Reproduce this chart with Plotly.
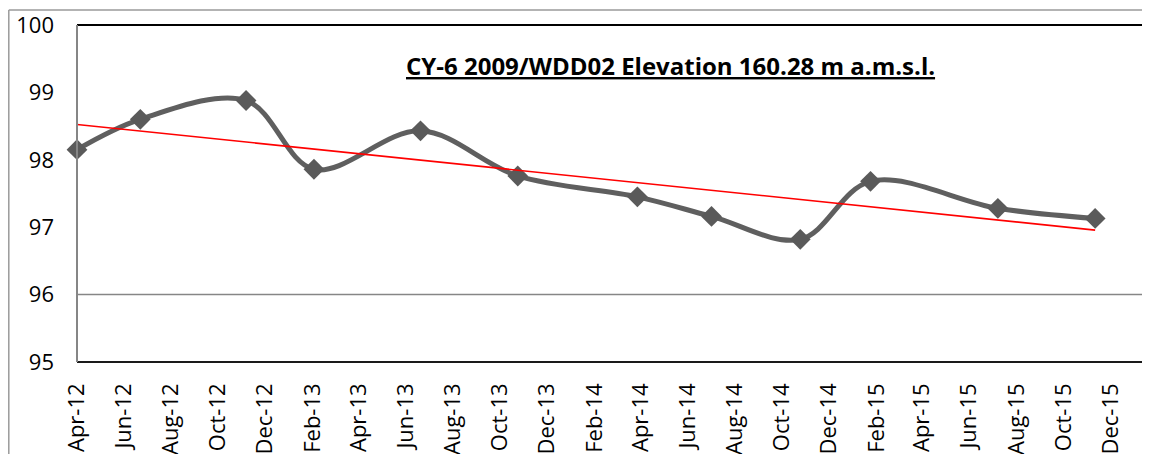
import numpy as np
import pandas as pd
import plotly.graph_objects as go

dates = ["2012-04-01", "2012-06-22", "2012-11-06", "2013-02-02", "2013-06-20", "2013-10-24",
         "2014-03-28", "2014-07-02", "2014-10-25", "2015-01-24", "2015-07-08", "2015-11-11"]
levels = [98.15, 98.60, 98.88, 97.86, 98.43, 97.76, 97.45, 97.16, 96.82, 97.68, 97.28, 97.13]
title_text = "CY-6 2009/WDD02 Elevation 160.28 m a.m.s.l."

dt = pd.to_datetime(dates)
days = (dt - dt[0]).days.values.astype(float)
slope, intercept = np.polyfit(days, np.array(levels), 1)
trend_x = [dt[0], dt[-1]]
trend_y = [intercept, intercept + slope * days[-1]]

# page is offset by the default 8px body margin
OFF = 8
W, H = 1150 - OFF, 454 - OFF
L, R, T, B = 77 - OFF, 1143 - OFF, 25 - OFF, 362 - OFF

fig = go.Figure()
fig.add_trace(go.Scatter(
    x=dt, y=levels, mode="lines+markers",
    line=dict(color="#5f5f5f", width=5, shape="spline", smoothing=1),
    marker=dict(symbol="diamond", size=16, color="#5a5a5a"),
    showlegend=False, cliponaxis=False))
fig.add_trace(go.Scatter(
    x=trend_x, y=trend_y, mode="lines",
    line=dict(color="#ff0000", width=1.6), showlegend=False))

def px2paper_x(px):
    return (px - OFF - L) / (R - L)

def px2paper_y(py):
    return (B - (py - OFF)) / (B - T)

shapes = [
    dict(type="line", xref="paper", yref="y", x0=0, x1=1, y0=96, y1=96,
         line=dict(color="#868686", width=1.5)),
    dict(type="line", xref="paper", yref="paper", x0=0, x1=1, y0=1, y1=1,
         line=dict(color="#000000", width=2)),
    dict(type="line", xref="paper", yref="paper", x0=1, x1=1, y0=0, y1=1,
         line=dict(color="#000000", width=2)),
    dict(type="line", xref="paper", yref="paper", x0=0, x1=1, y0=0, y1=0,
         line=dict(color="#1a1a1a", width=2)),
    dict(type="line", xref="paper", yref="paper", x0=0, x1=0, y0=0, y1=1,
         line=dict(color="#868686", width=2)),
    dict(type="line", xref="paper", yref="paper",
         x0=px2paper_x(8.8), x1=px2paper_x(1160), y0=px2paper_y(10), y1=px2paper_y(10),
         line=dict(color="#9a9a9a", width=1.5)),
    dict(type="line", xref="paper", yref="paper",
         x0=px2paper_x(8.8), x1=px2paper_x(8.8), y0=px2paper_y(10), y1=px2paper_y(470),
         line=dict(color="#9a9a9a", width=1.5)),
]

fig.update_layout(
    width=W, height=H,
    margin=dict(l=L, r=W - R, t=T, b=H - B, autoexpand=False),
    paper_bgcolor="white", plot_bgcolor="white",
    shapes=shapes,
    font=dict(family="Open Sans", color="#000000"),
    xaxis=dict(
        type="date",
        range=["2012-04-01", "2016-01-12"],
        tick0="2012-04-01", dtick="M2", tickformat="%b-%y",
        tickangle=-90, tickfont=dict(size=22, family="Open Sans"),
        showgrid=False, zeroline=False, showline=False, ticks="",
        ticklabelstandoff=16, automargin=False,
    ),
    yaxis=dict(
        range=[95, 100], dtick=1, showgrid=False, zeroline=False,
        showline=False, ticks="", tickfont=dict(size=22, family="Open Sans"),
        ticklabelstandoff=22, automargin=False,
    ),
    annotations=[dict(
        text="<b>" + title_text + "</b>", xref="paper", yref="paper",
        x=px2paper_x(670), y=px2paper_y(66), xanchor="center", yanchor="middle",
        showarrow=False,
        font=dict(size=24, family="Open Sans", color="#000000", lineposition="under"),
    )],
)

fig.write_html("out.html")
